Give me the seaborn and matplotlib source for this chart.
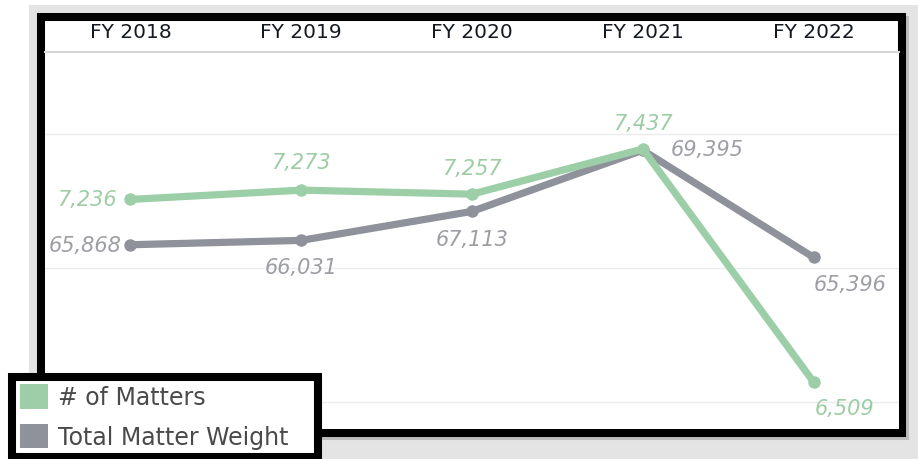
import matplotlib
matplotlib.use("Agg")
import matplotlib.pyplot as plt
from matplotlib.patches import Rectangle, Patch
import seaborn as sns
import pandas as pd

# Data
years = ["FY 2018", "FY 2019", "FY 2020", "FY 2021", "FY 2022"]
matters = [7236, 7273, 7257, 7437, 6509]
weight = [65868, 66031, 67113, 69395, 65396]

green = "#9ccfa7"
gray = "#8f929a"
green_txt = "#9dcca5"
gray_txt = "#9c9ea4"

sns.set_style("white")
plt.rcParams['font.family'] = ['DejaVu Sans']

df = pd.DataFrame({"year": years, "matters": matters, "weight": weight})

fig = plt.figure(figsize=(9.18, 4.6), dpi=100)
fig.patch.set_facecolor("white")

W, H = 918, 460
def fx(px):
    return px / W
def fy(py):
    return 1 - py / H

# background and framed card
fig.add_artist(Rectangle((fx(29), 0), 1 - fx(29), fy(6), transform=fig.transFigure,
                         facecolor="#e4e4e4", edgecolor="none", zorder=-3))
fig.add_artist(Rectangle((fx(44), fy(437)), fx(905) - fx(44), fy(21) - fy(437),
                         transform=fig.transFigure, facecolor="#bdbdbd",
                         edgecolor="#bdbdbd", lw=5.8, zorder=-2))
fig.add_artist(Rectangle((fx(41), fy(434)), fx(902) - fx(41), fy(18) - fy(434),
                         transform=fig.transFigure, facecolor="white",
                         edgecolor="black", lw=5.8, zorder=-1))

ax = fig.add_axes([fx(45), fy(430), fx(899) - fx(45), fy(53) - fy(430)])
sns.lineplot(data=df, x="year", y="weight", ax=ax, color=gray, lw=5.2,
             marker="o", markersize=9, markeredgewidth=0, sort=False)
ax2 = ax.twinx()
sns.lineplot(data=df, x="year", y="matters", ax=ax2, color=green, lw=5.2,
             marker="o", markersize=9, markeredgewidth=0, sort=False)

ax.set_xlim(-0.5, 4.5)
ax.set_ylim(58993, 73060)
ax2.set_ylim(6322, 7823)

ax.set_yticks([60000, 65000, 70000])
ax.yaxis.grid(True, color="#ececec", lw=1)
ax.set_yticklabels([])
ax2.set_yticks([])
ax.tick_params(axis="y", length=0)
ax.set_xlabel("")
ax.set_ylabel("")
ax2.set_ylabel("")

ax.xaxis.tick_top()
ax.tick_params(axis="x", length=0, pad=8, labelsize=14.5, labelcolor="#151a22")
for a in (ax, ax2):
    for s in ["left", "right", "bottom"]:
        a.spines[s].set_visible(False)
ax.spines["top"].set_color("#d6d6d6")
ax.spines["top"].set_linewidth(1.5)
ax2.spines["top"].set_visible(False)

# value labels
m_off = [(-10, 0, "right"), (0, 20, "center"), (0, 19, "center"), (0, 19, "center"), (1, -19, "left")]
w_off = [(-6.5, 0, "right"), (0, -19, "center"), (0, -20, "center"), (20, 1, "left"), (0, -19.5, "left")]
for i, v in enumerate(matters):
    dx, dy, ha = m_off[i]
    ax2.annotate(f"{v:,}", (i, v), xytext=(dx, dy), textcoords="offset points",
                 ha=ha, va="center", fontsize=15, style="italic", color=green_txt)
for i, v in enumerate(weight):
    dx, dy, ha = w_off[i]
    ax.annotate(f"{v:,}", (i, v), xytext=(dx, dy), textcoords="offset points",
                ha=ha, va="center", fontsize=15, style="italic", color=gray_txt)

handles = [Patch(facecolor=green, edgecolor="none", label="# of Matters"),
           Patch(facecolor=gray, edgecolor="none", label="Total Matter Weight")]
leg = fig.legend(handles=handles, loc="lower left",
                 bbox_to_anchor=(fx(12), fy(458), fx(318) - fx(12), 0.1),
                 mode="expand", bbox_transform=fig.transFigure, borderaxespad=0,
                 fontsize=17, handlelength=1.2, handleheight=1.2, handletextpad=0.42,
                 labelspacing=0.62, borderpad=0.33, fancybox=False, frameon=True,
                 framealpha=1)
leg.get_frame().set_edgecolor("black")
leg.get_frame().set_linewidth(5.8)
for t in leg.get_texts():
    t.set_color("#4a4a4a")

fig.savefig("out.png", dpi=100)
